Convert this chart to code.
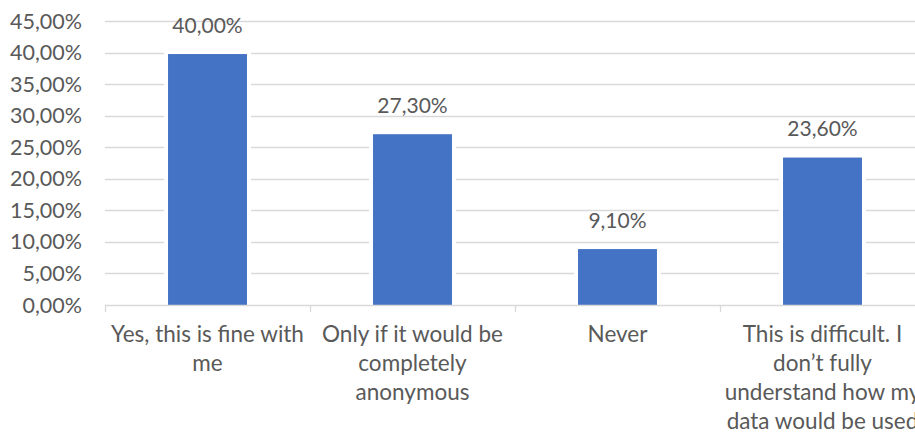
<!DOCTYPE html>
<html>
<head>
<meta charset="utf-8">
<script src="https://cdn.jsdelivr.net/npm/d3@7"></script>
<style>
  body { margin: 0; background: #fff; }
  text { font-family: Lato, "Open Sans", sans-serif; fill: #595959; }
</style>
</head>
<body>
<div id="chart"></div>
<script>
// Chart data
var categories = [
  "Yes, this is fine with\nme",
  "Only if it would be\ncompletely\nanonymous",
  "Never",
  "This is difficult. I\ndon\u2019t fully\nunderstand how my\ndata would be used"
];
var values = [0.40, 0.273, 0.091, 0.236];
var valueLabels = ["40,00%", "27,30%", "9,10%", "23,60%"];
var yTicks = [0, 0.05, 0.10, 0.15, 0.20, 0.25, 0.30, 0.35, 0.40, 0.45];

var width = 915;
var height = 436;

// plot area (right side runs past the window, like the original)
var plotLeft = 105;
var plotRight = 925;
var plotTop = 21;
var plotBottom = 305;

var svg = d3
  .select("#chart")
  .append("svg")
  .attr("width", width)
  .attr("height", height);

var xScale = d3
  .scaleBand()
  .domain(categories)
  .range([plotLeft, plotRight])
  .paddingInner(0.615)
  .paddingOuter(0.3075);

var yScale = d3
  .scaleLinear()
  .domain([0, 0.45])
  .range([plotBottom, plotTop]);

function pct(v) {
  return (v * 100).toFixed(2).replace(".", ",") + "%";
}

// Gridlines
svg
  .append("g")
  .selectAll("line")
  .data(yTicks.slice(1))
  .enter()
  .append("line")
  .attr("x1", plotLeft)
  .attr("x2", plotRight)
  .attr("y1", function(d) { return Math.round(yScale(d)) + 0.5; })
  .attr("y2", function(d) { return Math.round(yScale(d)) + 0.5; })
  .attr("stroke", "#d9d9d9")
  .attr("stroke-width", 1.3);

// Y axis labels
svg
  .append("g")
  .selectAll("text")
  .data(yTicks)
  .enter()
  .append("text")
  .attr("x", 82)
  .attr("y", function(d) { return yScale(d); })
  .attr("dy", "0.35em")
  .attr("text-anchor", "end")
  .attr("font-size", 21.5)
  .text(pct);

// Bars: white halo first so gridlines break around them
var bars = svg.append("g").selectAll("g").data(values).enter().append("g");

bars
  .append("rect")
  .attr("x", function(d, i) { return xScale(categories[i]) - 4; })
  .attr("width", xScale.bandwidth() + 8)
  .attr("y", function(d) { return yScale(d) - 1; })
  .attr("height", function(d) { return plotBottom - yScale(d) + 1; })
  .attr("fill", "#fff");

bars
  .append("rect")
  .attr("x", function(d, i) { return xScale(categories[i]); })
  .attr("width", xScale.bandwidth())
  .attr("y", function(d) { return yScale(d) + 1.5; })
  .attr("height", function(d) { return plotBottom - yScale(d) - 1.5; })
  .attr("fill", "#4472c4");

// Value labels
bars
  .append("text")
  .attr("x", function(d, i) { return xScale(categories[i]) + xScale.bandwidth() / 2; })
  .attr("y", function(d) { return yScale(d) - 20; })
  .attr("text-anchor", "middle")
  .attr("font-size", 21)
  .attr("fill", "#404040")
  .text(function(d, i) { return valueLabels[i]; });

// Baseline and category ticks
svg
  .append("line")
  .attr("x1", plotLeft)
  .attr("x2", plotRight)
  .attr("y1", plotBottom + 0.5)
  .attr("y2", plotBottom + 0.5)
  .attr("stroke", "#d9d9d9")
  .attr("stroke-width", 1.3);

var step = xScale.step();
svg
  .append("g")
  .selectAll("line")
  .data(d3.range(categories.length + 1))
  .enter()
  .append("line")
  .attr("x1", function(i) { return Math.round(plotLeft + i * step) + 0.5; })
  .attr("x2", function(i) { return Math.round(plotLeft + i * step) + 0.5; })
  .attr("y1", plotBottom)
  .attr("y2", plotBottom + 7)
  .attr("stroke", "#d9d9d9")
  .attr("stroke-width", 1.3);

// Category labels (wrapped as in the original)
var catText = svg
  .append("g")
  .selectAll("text")
  .data(categories)
  .enter()
  .append("text")
  .attr("text-anchor", "middle")
  .attr("font-size", 22.5)
  .attr("y", 342);

catText
  .selectAll("tspan")
  .data(function(d) {
    var x = xScale(d) + xScale.bandwidth() / 2;
    return d.split("\n").map(function(line, j) { return { line: line, x: x, j: j }; });
  })
  .enter()
  .append("tspan")
  .attr("x", function(d) { return d.x; })
  .attr("y", function(d) { return 342 + d.j * 29; })
  .text(function(d) { return d.line; });
</script>
</body>
</html>
